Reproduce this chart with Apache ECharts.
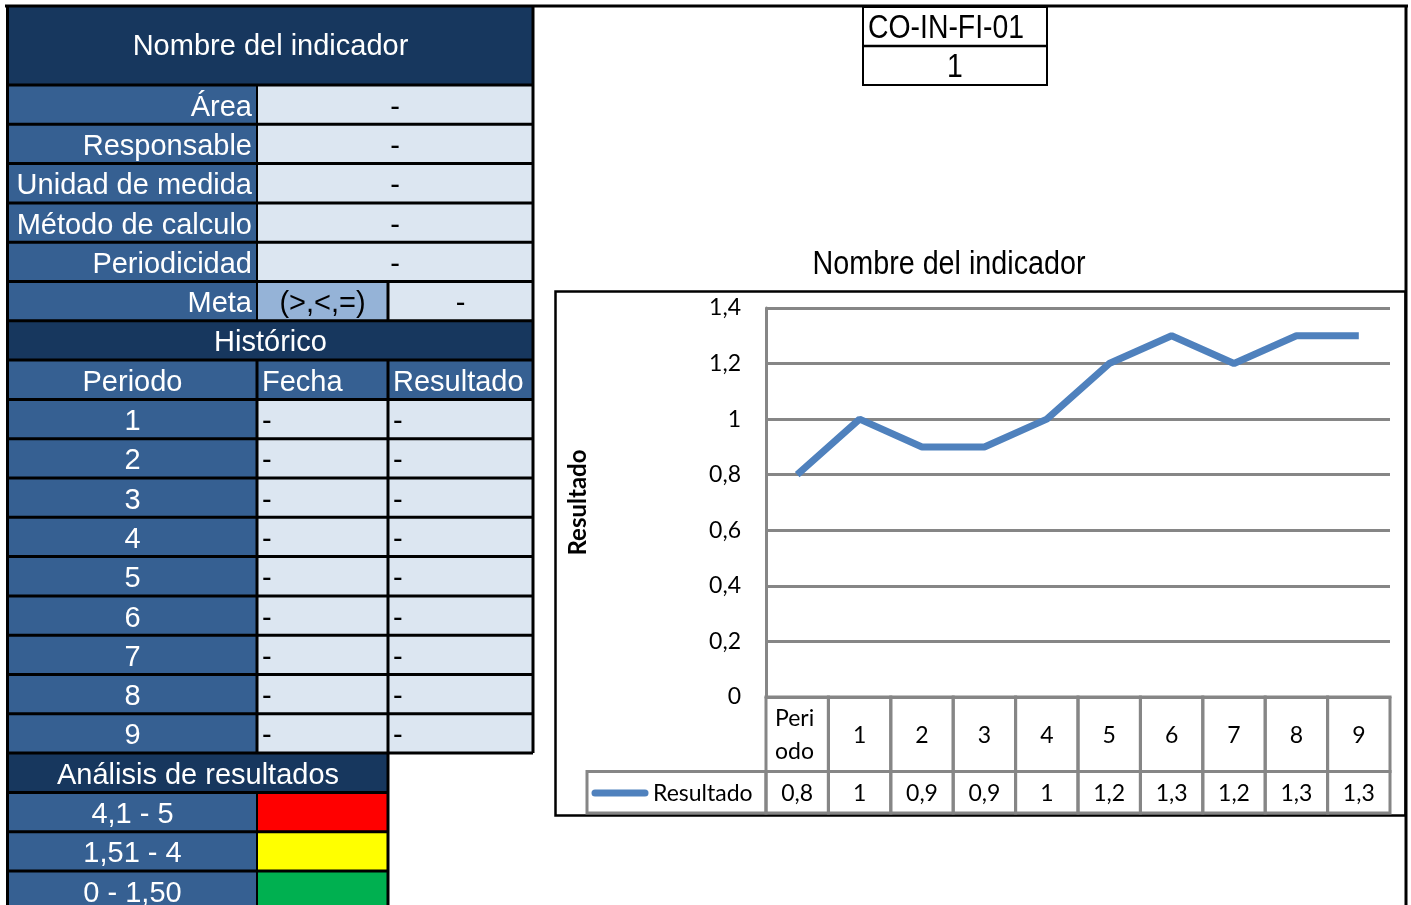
<!DOCTYPE html>
<html>
<head>
<meta charset="utf-8">
<script src="https://cdn.jsdelivr.net/npm/echarts@6/dist/echarts.min.js"></script>
<style>
  html, body { margin: 0; padding: 0; background: #fff; }
  #main { width: 1411px; height: 905px; }
</style>
</head>
<body>
<div id="main"></div>
<script>
// ficha del indicador
const sheetTitle = 'Nombre del indicador'
const fieldLabels = ['Área', 'Responsable', 'Unidad de medida', 'Método de calculo', 'Periodicidad']
const fieldValues = ['-', '-', '-', '-', '-']
const metaLabel = 'Meta'
const metaSign = '(>,<,=)'
const metaValue = '-'
const historyTitle = 'Histórico'
const historyHeaders = ['Periodo', 'Fecha', 'Resultado']
const historyPeriods = ['1', '2', '3', '4', '5', '6', '7', '8', '9']
const historyDates = ['-', '-', '-', '-', '-', '-', '-', '-', '-']
const historyResults = ['-', '-', '-', '-', '-', '-', '-', '-', '-']
const analysisTitle = 'Análisis de resultados'
const rangeLabels = ['4,1 - 5', '1,51 - 4', '0 - 1,50']
const rangeColors = ['#FF0000', '#FFFF00', '#00B050']
const formatCode = 'CO-IN-FI-01'
const formatVersion = '1'

// grafico
const chartTitle = 'Nombre del indicador'
const seriesName = 'Resultado'
const categories = ['Periodo', '1', '2', '3', '4', '5', '6', '7', '8', '9']
const resultValues = [0.8, 1, 0.9, 0.9, 1, 1.2, 1.3, 1.2, 1.3, 1.3]

const DARK = '#17375E'
const BLUE = '#366092'
const LIGHT = '#DCE6F1'
const META = '#95B3D7'
const GRAY = '#868686'
const LINE = '#4F81BD'
const ARIAL = '"Liberation Sans", Arial, sans-serif'
const CALIBRI = 'Lato, "Open Sans", sans-serif'

const fmt = v => String(+(+v).toFixed(2)).replace('.', ',')

const els = []
function box(x, y, w, h, fill) {
  els.push({ type: 'rect', silent: true, shape: { x, y, width: w, height: h }, style: { fill } })
}
function txt(x, y, text, align, color, font, scaleX) {
  els.push({
    type: 'text', silent: true, z: 10, x, y, scaleX: scaleX || 1,
    style: { text, x: 0, y: 0, fill: color || '#fff', font: font || ('29px ' + ARIAL),
      align: align || 'center', textAlign: align || 'center', verticalAlign: 'middle', textVerticalAlign: 'middle' }
  })
}
function line(x1, y1, x2, y2, w, color) {
  els.push({ type: 'line', silent: true, z: 5, shape: { x1, y1, x2, y2 }, style: { stroke: color || '#000', lineWidth: w || 3 } })
}

// filas de la hoja
const L = 8, C1 = 257, C2 = 388, R = 533
const ROW0 = 85, PITCH = 39.3
const rowY = k => ROW0 + k * PITCH
const mid = k => rowY(k) + PITCH / 2 + 3

box(L, 6, R - L, ROW0 - 6, DARK)
txt((L + R) / 2, 47, sheetTitle)
fieldLabels.forEach((lab, i) => {
  box(L, rowY(i), C1 - L, PITCH, BLUE)
  box(C1, rowY(i), R - C1, PITCH, LIGHT)
  txt(252, mid(i), lab, 'right')
  txt((C1 + R) / 2, mid(i), fieldValues[i], 'center', '#000')
})
let k = fieldLabels.length
box(L, rowY(k), C1 - L, PITCH, BLUE)
box(C1, rowY(k), C2 - C1, PITCH, META)
box(C2, rowY(k), R - C2, PITCH, LIGHT)
txt(252, mid(k), metaLabel, 'right')
txt((C1 + C2) / 2, mid(k), metaSign, 'center', '#000')
txt((C2 + R) / 2, mid(k), metaValue, 'center', '#000')
k++
box(L, rowY(k), R - L, PITCH, DARK)
txt((L + R) / 2, mid(k), historyTitle)
k++
box(L, rowY(k), R - L, PITCH, BLUE)
txt((L + C1) / 2, mid(k), historyHeaders[0])
txt(C1 + 5, mid(k), historyHeaders[1], 'left')
txt(C2 + 5, mid(k), historyHeaders[2], 'left')
k++
historyPeriods.forEach((p, i) => {
  const r = k + i
  box(L, rowY(r), C1 - L, PITCH, BLUE)
  box(C1, rowY(r), R - C1, PITCH, LIGHT)
  txt((L + C1) / 2, mid(r), p)
  txt(C1 + 5, mid(r), historyDates[i], 'left', '#000')
  txt(C2 + 5, mid(r), historyResults[i], 'left', '#000')
})
k += historyPeriods.length
const kAnalysis = k
box(L, rowY(k), C2 - L, PITCH, DARK)
txt((L + C2) / 2, mid(k), analysisTitle)
k++
rangeLabels.forEach((lab, i) => {
  const r = k + i
  box(L, rowY(r), C1 - L, PITCH, BLUE)
  box(C1, rowY(r), C2 - C1, PITCH, rangeColors[i])
  txt((L + C1) / 2, mid(r), lab)
})

// bordes
for (let i = 0; i <= kAnalysis; i++) line(L - 1, rowY(i), R, rowY(i), 3)
for (let i = kAnalysis + 1; i < kAnalysis + 4; i++) line(L - 1, rowY(i), C2, rowY(i), 3)
line(5, 6, 1408, 6, 3)
line(7.5, 5, 7.5, 905, 3)
line(C1, rowY(0), C1, rowY(6), 2)
line(C1, rowY(7), C1, rowY(kAnalysis), 3)
line(C1, rowY(kAnalysis + 1), C1, 905, 2)
line(C2, rowY(5), C2, rowY(6), 3)
line(C2, rowY(7), C2, 905, 3)
line(R, 5, R, rowY(kAnalysis), 3)
line(1406, 5, 1406, 905, 3)

// codigo del formato (letra estrecha)
els.push({ type: 'rect', silent: true, shape: { x: 863, y: 7, width: 184, height: 78 }, style: { fill: null, stroke: '#000', lineWidth: 2 } })
line(863, 46, 1047, 46, 2.5)
txt(868, 29, formatCode, 'left', '#000', '33px ' + ARIAL, 0.86)
txt(955, 68, formatVersion, 'center', '#000', '33px ' + ARIAL, 0.86)
txt(949, 265, chartTitle, 'center', '#000', '33px ' + ARIAL, 0.87)

// marco del grafico
els.push({ type: 'rect', silent: true, shape: { x: 555.5, y: 291.5, width: 850, height: 524 }, style: { fill: null, stroke: '#000', lineWidth: 2.5 } })
// leyenda en la tabla de datos
els.push({ type: 'rect', silent: true, shape: { x: 587, y: 771.6, width: 179, height: 41.4 }, style: { fill: null, stroke: GRAY, lineWidth: 3 } })
line(595, 793, 645, 793, 7, LINE)
els[els.length - 1].style.lineCap = 'round'
txt(653, 794, seriesName, 'left', '#000', '23px ' + CALIBRI)

const chart = echarts.init(document.getElementById('main'))
chart.setOption({
  animation: false,
  grid: [
    { left: 766, top: 308, width: 624, height: 389 },
    { left: 766, top: 697, width: 624, height: 116 }
  ],
  xAxis: [
    {
      type: 'category', data: categories, gridIndex: 0, boundaryGap: true,
      axisLine: { lineStyle: { color: GRAY, width: 3 } },
      axisTick: { show: false }, axisLabel: { show: false }
    },
    {
      type: 'category', data: categories, gridIndex: 1, boundaryGap: true,
      axisLine: { show: false }, axisTick: { show: false }, axisLabel: { show: false }
    }
  ],
  yAxis: [
    {
      type: 'value', gridIndex: 0, min: 0, max: 1.4, interval: 0.2,
      name: seriesName, nameLocation: 'middle', nameGap: 176,
      nameTextStyle: { fontFamily: CALIBRI, fontWeight: 'bold', fontSize: 24, color: '#000' },
      axisLine: { show: true, lineStyle: { color: GRAY, width: 3 } },
      axisTick: { show: false },
      axisLabel: { formatter: fmt, margin: 25, fontFamily: CALIBRI, fontSize: 23, color: '#000' },
      splitLine: { lineStyle: { color: GRAY, width: 3 } }
    },
    {
      type: 'value', gridIndex: 1, min: 0, max: 2.8, show: false,
      axisLine: { show: false }, splitLine: { show: false }
    }
  ],
  series: [
    {
      name: seriesName, type: 'line', xAxisIndex: 0, yAxisIndex: 0,
      data: resultValues, symbol: 'none',
      lineStyle: { color: LINE, width: 7 }, z: 5
    },
    {
      type: 'custom', xAxisIndex: 1, yAxisIndex: 1,
      data: resultValues.map((v, i) => [i, v]),
      encode: { x: 0, y: 1 },
      renderItem: function (params, api) {
        const i = api.value(0)
        const c = api.coord([i, 0])
        const bw = api.size([1, 0])[0]
        const yTop = api.coord([i, 2.8])[1]
        const yMid = api.coord([i, 1])[1]
        const yBot = c[1]
        const x0 = c[0] - bw / 2
        const stroke = { fill: null, stroke: GRAY, lineWidth: 3 }
        const cat = categories[i]
        const long = cat.length > 4
        const font = '23px ' + CALIBRI
        return {
          type: 'group',
          children: [
            { type: 'rect', shape: { x: x0, y: yTop, width: bw, height: yMid - yTop }, style: stroke },
            { type: 'rect', shape: { x: x0, y: yMid, width: bw, height: yBot - yMid }, style: stroke },
            {
              type: 'text',
              style: {
                text: long ? cat.slice(0, 4) + '\n' + cat.slice(4) : cat,
                x: long ? x0 + 9 : c[0], y: (yTop + yMid) / 2 + 1,
                align: long ? 'left' : 'center', verticalAlign: 'middle',
                font, lineHeight: 33, fill: '#000'
              }
            },
            {
              type: 'text',
              style: {
                text: fmt(api.value(1)), x: c[0], y: (yMid + yBot) / 2 + 1,
                align: 'center', verticalAlign: 'middle', font, fill: '#000'
              }
            }
          ]
        }
      }
    }
  ],
  graphic: els
})
</script>
</body>
</html>
